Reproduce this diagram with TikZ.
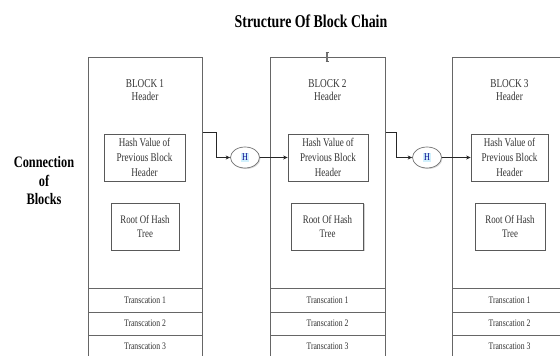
\documentclass[tikz,border=0pt]{standalone}
\usepackage{fontspec}
\setmainfont[FakeStretch=0.77]{Liberation Serif}
\usetikzlibrary{shapes.geometric,shadows,arrows.meta}
\begin{document}
\begin{tikzpicture}[x=1pt,y=-1pt]
\tikzset{
 blk/.style={draw=black!60, line width=0.7pt, inner sep=0pt, minimum height=303pt, anchor=north west},
 hbox/.style={draw=black!65, line width=0.7pt, fill=white, align=center, inner sep=0pt,
   minimum height=47pt, font=\fontsize{11.8}{15}\selectfont, text=black!80,
   drop shadow={shadow xshift=1.2pt, shadow yshift=-1.2pt, opacity=0.35}},
 lbl/.style={align=center, font=\fontsize{12}{13.5}\selectfont, text=black!80},
 tx/.style={font=\fontsize{10}{12}\selectfont, text=black!80},
 hell/.style={ellipse, draw=black!55, line width=0.7pt, minimum width=29pt, minimum height=21pt,
   inner sep=0pt, fill=white, drop shadow={shadow xshift=1pt, shadow yshift=-1pt, opacity=0.3}},
 hmark/.style={fill=cyan!18, inner xsep=0.6pt, inner ysep=1.5pt, text=blue!55!black, font=\fontsize{10.5}{12}\selectfont},
 conn/.style={draw=black!85, line width=0.7pt, -{Stealth[length=4.5pt,width=4pt]}},
 sep/.style={draw=black!60, line width=0.7pt},
}
\useasboundingbox (0,0) rectangle (560,356);
\fill[white] (0,0) rectangle (560,356);
\clip (0,0) rectangle (560,356);

\node[font=\bfseries\fontsize{18}{20}\selectfont] (title) at (311,21) {Structure Of Block Chain};
\node[align=center, font=\bfseries\fontsize{16}{18.5}\selectfont] (cob) at (44,181) {Connection\\of\\Blocks};

% blocks
\node[blk, minimum width=114pt] (b1) at (88,57) {};
\node[blk, minimum width=115pt] (b2) at (270,57) {};
\node[blk, minimum width=115pt] (b3) at (452,57) {};

% I-beam mark
\draw[black!55, line width=1.4pt] (327,53) -- (327,61);
\draw[black!60, line width=0.5pt] (325.5,52.5) -- (328.5,52.5) (325.5,61.5) -- (328.5,61.5);

% headers
\node[lbl] (hd1) at (145,90) {BLOCK 1\\Header};
\node[lbl] (hd2) at (327.5,90) {BLOCK 2\\Header};
\node[lbl] (hd3) at (509.5,90) {BLOCK 3\\Header};

% hash boxes
\node[hbox, minimum width=81pt] (p1) at (144.5,157.5) {Hash Value of\\Previous Block\\Header};
\node[hbox, minimum width=80pt] (p2) at (328,157.5) {Hash Value of\\Previous Block\\Header};
\node[hbox, minimum width=77pt] (p3) at (509.5,157.5) {Hash Value of\\Previous Block\\Header};

% root boxes
\node[hbox, minimum width=68pt, font=\fontsize{11.5}{14}\selectfont] (r1) at (145,226.5) {Root Of Hash\\Tree};
\node[hbox, minimum width=72pt, font=\fontsize{11.5}{14}\selectfont] (r2) at (327.5,226.5) {Root Of Hash\\Tree};
\node[hbox, minimum width=70pt, font=\fontsize{11.5}{14}\selectfont] (r3) at (510,226.5) {Root Of Hash\\Tree};

% transaction separators and labels
\foreach \b in {b1,b2,b3}{
  \foreach \yy in {288,312,335}{
    \draw[sep] (\b.west |- 0,\yy) -- (\b.east |- 0,\yy);
  }
}
\foreach \b/\cx in {1/145,2/327.5,3/509.5}{
  \node[tx] (t\b a) at (\cx,300) {Transcation 1};
  \node[tx] (t\b b) at (\cx,323.5) {Transcation 2};
  \node[tx] (t\b c) at (\cx,346) {Transcation 3};
}

% hash ellipses
\node[hell] (e1) at (245,157.5) {};
\node[hmark] (m1) at (e1) {H};
\node[hell] (e2) at (427,157.5) {};
\node[hmark] (m2) at (e2) {H};

% connectors
\coordinate (k1) at (216,132);
\coordinate (k2) at (396,132);
\draw[conn] (b1.east |- k1) -- (k1) |- (e1.west);
\draw[conn] (e1.east) -- (p2.west);
\draw[conn] (b2.east |- k2) -- (k2) |- (e2.west);
\draw[conn] (e2.east) -- (p3.west);
\end{tikzpicture}
\end{document}
